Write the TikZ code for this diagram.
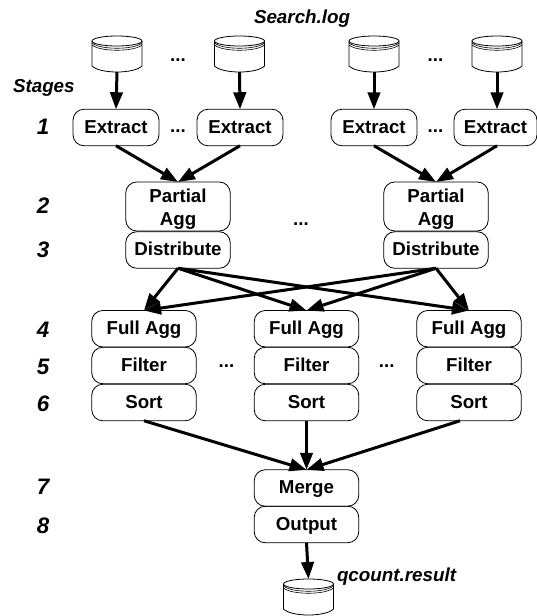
\documentclass[tikz,border=0pt]{standalone}
\usepackage{fontspec}
\setmainfont{Liberation Sans}
\usetikzlibrary{arrows.meta}
\tikzset{
  x=1pt,y=-1pt,
  every node/.style={inner sep=0pt,outer sep=0pt},
  opbox/.style={draw=black,line width=0.8pt,rounded corners=11pt,align=center,minimum width=#1,minimum height=36.5pt,text height=11pt,text depth=0pt,font=\fontsize{18.7}{23}\selectfont\bfseries},
  opbox/.default=104.5pt,
  twobox/.style={draw=black,line width=0.8pt,rounded corners=11pt,align=center,minimum width=104.5pt,minimum height=49pt,text height=41.4pt,font=\fontsize{18.7}{23}\selectfont\bfseries},
  flow/.style={draw=black,line width=3pt,-{Stealth[length=17pt,width=12.5pt,inset=0pt]}},
  cylbox/.style={minimum width=50pt,minimum height=36pt},
  dotsmark/.style={anchor=base,font=\fontsize{18.7}{23}\selectfont\bfseries},
  itlabel/.style={anchor=base west,font=\fontsize{18.8}{23}\selectfont\bfseries\itshape},
  stagenum/.style={anchor=base,font=\fontsize{22.4}{26}\selectfont\bfseries\itshape},
  cylline/.style={draw=black,line width=0.8pt}
}
\newcommand{\cylnode}[2]{%
  \node[cylbox] (#1) at (#2) {};
  \draw[cylline] ([yshift=-5pt]#1.north west) -- ([yshift=6pt]#1.south west) .. controls ([xshift=8pt,yshift=-2pt]#1.south west) and ([xshift=-8pt,yshift=-2pt]#1.south east) .. ([yshift=6pt]#1.south east) -- ([yshift=-5pt]#1.north east);
  \draw[cylline] ([yshift=-5pt]#1.north) ellipse[x radius=25pt,y radius=5pt];
  \draw[cylline,line width=0.6pt] ([yshift=-7pt]#1.north west) .. controls ([xshift=8pt,yshift=-14pt]#1.north west) and ([xshift=-8pt,yshift=-14pt]#1.north east) .. ([yshift=-7pt]#1.north east);
  \draw[cylline,line width=0.6pt] ([yshift=-9pt]#1.north west) .. controls ([xshift=8pt,yshift=-16pt]#1.north west) and ([xshift=-8pt,yshift=-16pt]#1.north east) .. ([yshift=-9pt]#1.north east);
}
\begin{document}
\begin{tikzpicture}
\useasboundingbox (0,0) rectangle (537,616);
% cylinders
\cylnode{c1}{117,54}
\cylnode{c2}{239.5,54}
\cylnode{c3}{374,54}
\cylnode{c4}{497,54}
\cylnode{c5}{308.5,597}
% stage 1
\node[opbox=86pt] (e1) at (116,127.5) {Extract};
\node[opbox=86pt] (e2) at (240,127.5) {Extract};
\node[opbox=86pt] (e3) at (374,127.5) {Extract};
\node[opbox=83pt] (e4) at (495.5,127.5) {Extract};
% stages 2 and 3
\node[twobox] (p1) at (178,206.5) {Partial\\Agg};
\node[opbox] (d1) at (178,250) {Distribute};
\node[twobox] (p2) at (436,206.5) {Partial\\Agg};
\node[opbox] (d2) at (436,250) {Distribute};
% stages 4 to 6
\node[opbox] (f1) at (144,328.75) {Full Agg};
\node[opbox] (g1) at (144,365.5) {Filter};
\node[opbox] (s1) at (144,402.5) {Sort};
\node[opbox] (f2) at (306.5,328.75) {Full Agg};
\node[opbox] (g2) at (306.5,365.5) {Filter};
\node[opbox] (s2) at (306.5,402.5) {Sort};
\node[opbox] (f3) at (469,328.75) {Full Agg};
\node[opbox] (g3) at (469,365.5) {Filter};
\node[opbox] (s3) at (469,402.5) {Sort};
% stages 7 and 8
\node[opbox] (m) at (306.5,488) {Merge};
\node[opbox] (o) at (306.5,524.5) {Output};
% connectors
\draw[flow] (c1.south) -- (e1.north);
\draw[flow] (c2.south) -- (e2.north);
\draw[flow] (c3.south) -- (e3.north);
\draw[flow] (c4.south) -- ([xshift=1.5pt]e4.north);
\draw[flow] (e1.south) -- (p1.north);
\draw[flow] (e2.south) -- (p1.north);
\draw[flow] (e3.south) -- (p2.north);
\draw[flow] ([xshift=1.5pt]e4.south) -- (p2.north);
\draw[flow] (d1.south) -- (f1.north);
\draw[flow] (d1.south) -- (f2.north);
\draw[flow] (d1.south) -- (f3.north);
\draw[flow] (d2.south) -- (f1.north);
\draw[flow] (d2.south) -- (f2.north);
\draw[flow] (d2.south) -- (f3.north);
\draw[flow] (s1.south) -- (m.north);
\draw[flow] (s2.south) -- (m.north);
\draw[flow] ([xshift=-9pt]s3.south) -- (m.north);
\draw[flow] (o.south) -- (c5.north);
% ellipses
\node[dotsmark] (t1) at (178,61.5) {...};
\node[dotsmark] (t2) at (435.5,61.5) {...};
\node[dotsmark] (t3) at (178,132.5) {...};
\node[dotsmark] (t4) at (435.5,132.5) {...};
\node[dotsmark] (t5) at (301,225) {...};
\node[dotsmark] (t6) at (226.5,367.5) {...};
\node[dotsmark] (t7) at (386.7,367.5) {...};
% labels
\node[itlabel] (l1) at (254,23) {Search.log};
\node[itlabel] (l2) at (337,581) {qcount.result};
\node[itlabel] (l3) at (13,92) {Stages};
\node[stagenum] (n1) at (43,134.5) {1};
\node[stagenum] (n2) at (43,213) {2};
\node[stagenum] (n3) at (43,257) {3};
\node[stagenum] (n4) at (43,337.5) {4};
\node[stagenum] (n5) at (43,374) {5};
\node[stagenum] (n6) at (43,411) {6};
\node[stagenum] (n7) at (43,494) {7};
\node[stagenum] (n8) at (43,533) {8};
\end{tikzpicture}
\end{document}
